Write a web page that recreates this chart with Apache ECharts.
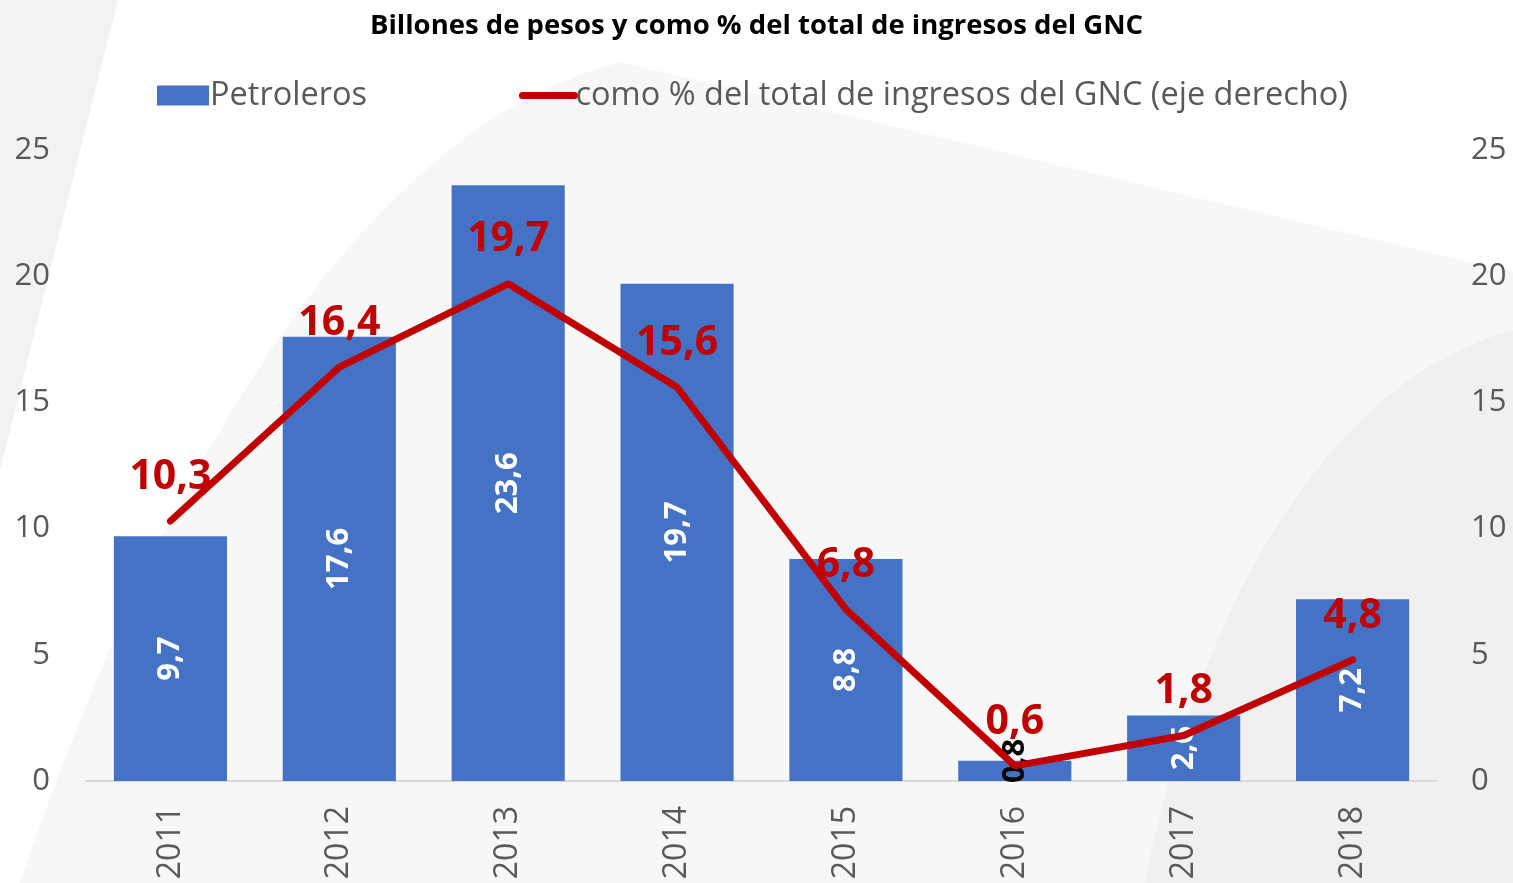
<!DOCTYPE html>
<html>
<head>
<meta charset="utf-8">
<script src="https://cdn.jsdelivr.net/npm/echarts@6/dist/echarts.min.js"></script>
<style>
html, body { margin: 0; padding: 0; background: #fff; }
#chart { width: 1513px; height: 883px; }
</style>
</head>
<body>
<div id="chart"></div>
<script>
var years = ['2011', '2012', '2013', '2014', '2015', '2016', '2017', '2018'];
var petroleros = [9.7, 17.6, 23.6, 19.7, 8.8, 0.8, 2.6, 7.2];
var pctIngresos = [10.3, 16.4, 19.7, 15.6, 6.8, 0.6, 1.8, 4.8];
var axisTicks = [0, 5, 10, 15, 20, 25];

function coma(v) {
    return String(v).replace('.', ',');
}

// puntos de una curva bezier cubica para el fondo decorativo
function curva(p0, p1, p2, p3) {
    var pts = [];
    for (var t = 0; t <= 1.0001; t += 0.05) {
        var a = (1 - t) * (1 - t) * (1 - t), b = 3 * (1 - t) * (1 - t) * t, c = 3 * (1 - t) * t * t, d = t * t * t;
        pts.push([a * p0[0] + b * p1[0] + c * p2[0] + d * p3[0], a * p0[1] + b * p1[1] + c * p2[1] + d * p3[1]]);
    }
    return pts;
}
var fondo1 = curva([20, 883], [150, 500], [350, 130], [620, 62]).concat([[1513, 272], [1513, 883]]);
var fondo2 = curva([1513, 330], [1330, 380], [1200, 600], [1145, 883]).concat([[1513, 883]]);

var barData = [];
for (var i = 0; i < petroleros.length; i++) {
    if (petroleros[i] < 2) {
        // barra muy pequeña: etiqueta en negro
        barData.push({ value: petroleros[i], label: { color: '#000', offset: [10, 0] } });
    } else {
        barData.push(petroleros[i]);
    }
}

var myChart = echarts.init(document.getElementById('chart'));
var option = {
    backgroundColor: '#fff',
    textStyle: { fontFamily: 'Open Sans' },
    graphic: [
        {
            type: 'polygon', z: -10, silent: true,
            shape: { points: [[0, 0], [118, 0], [0, 470]] },
            style: { fill: '#f2f2f2' }
        },
        {
            type: 'polygon', z: -10, silent: true,
            shape: { points: fondo1 },
            style: { fill: '#f7f7f7' }
        },
        {
            type: 'polygon', z: -9, silent: true,
            shape: { points: fondo2 },
            style: { fill: '#f0f0f0' }
        }
    ],
    title: {
        text: 'Billones de pesos y como % del total de ingresos del GNC',
        left: 'center',
        top: 7,
        textStyle: { fontFamily: 'Open Sans', fontWeight: 'bold', fontSize: 27.5, color: '#000' }
    },
    legend: {
        left: 152,
        top: 74,
        itemWidth: 52,
        itemHeight: 20,
        itemGap: 152,
        textStyle: { fontSize: 32.5, color: '#595959', padding: [0, 0, 0, -4] },
        data: [
            { name: 'Petroleros', icon: 'rect' },
            {
                name: 'como % del total de ingresos del GNC (eje derecho)',
                itemStyle: { opacity: 0 },
                lineStyle: { width: 7, color: '#C00000', cap: 'round' }
            }
        ]
    },
    grid: { left: 86, right: 76, top: 150, bottom: 102 },
    xAxis: {
        type: 'category',
        data: years,
        axisLine: { lineStyle: { color: '#d9d9d9', width: 2 } },
        axisTick: { show: false },
        axisLabel: { rotate: 90, fontSize: 32, color: '#595959', margin: 25 }
    },
    yAxis: [
        {
            type: 'value', min: axisTicks[0], max: axisTicks[axisTicks.length - 1], interval: 5,
            splitLine: { show: false },
            axisLabel: { fontSize: 31, color: '#595959', margin: 36 }
        },
        {
            type: 'value', min: axisTicks[0], max: axisTicks[axisTicks.length - 1], interval: 5,
            splitLine: { show: false },
            axisLabel: { fontSize: 31, color: '#595959', margin: 34 }
        }
    ],
    series: [
        {
            name: 'Petroleros',
            type: 'bar',
            barWidth: '67%',
            itemStyle: { color: '#4472C4' },
            label: {
                show: true, position: 'inside', rotate: 90,
                color: '#fff', fontWeight: 'bold', fontSize: 31,
                formatter: function (p) { return coma(p.value); }
            },
            data: barData
        },
        {
            name: 'como % del total de ingresos del GNC (eje derecho)',
            type: 'line',
            yAxisIndex: 1,
            symbol: 'circle',
            symbolSize: 1,
            lineStyle: { color: '#C00000', width: 7, cap: 'round' },
            itemStyle: { color: '#C00000' },
            label: {
                show: true, position: 'top', distance: 23,
                color: '#C00000', fontWeight: 'bold', fontSize: 41,
                formatter: function (p) { return coma(p.value); }
            },
            z: 5,
            data: pctIngresos
        }
    ]
};
myChart.setOption(option);
</script>
</body>
</html>
